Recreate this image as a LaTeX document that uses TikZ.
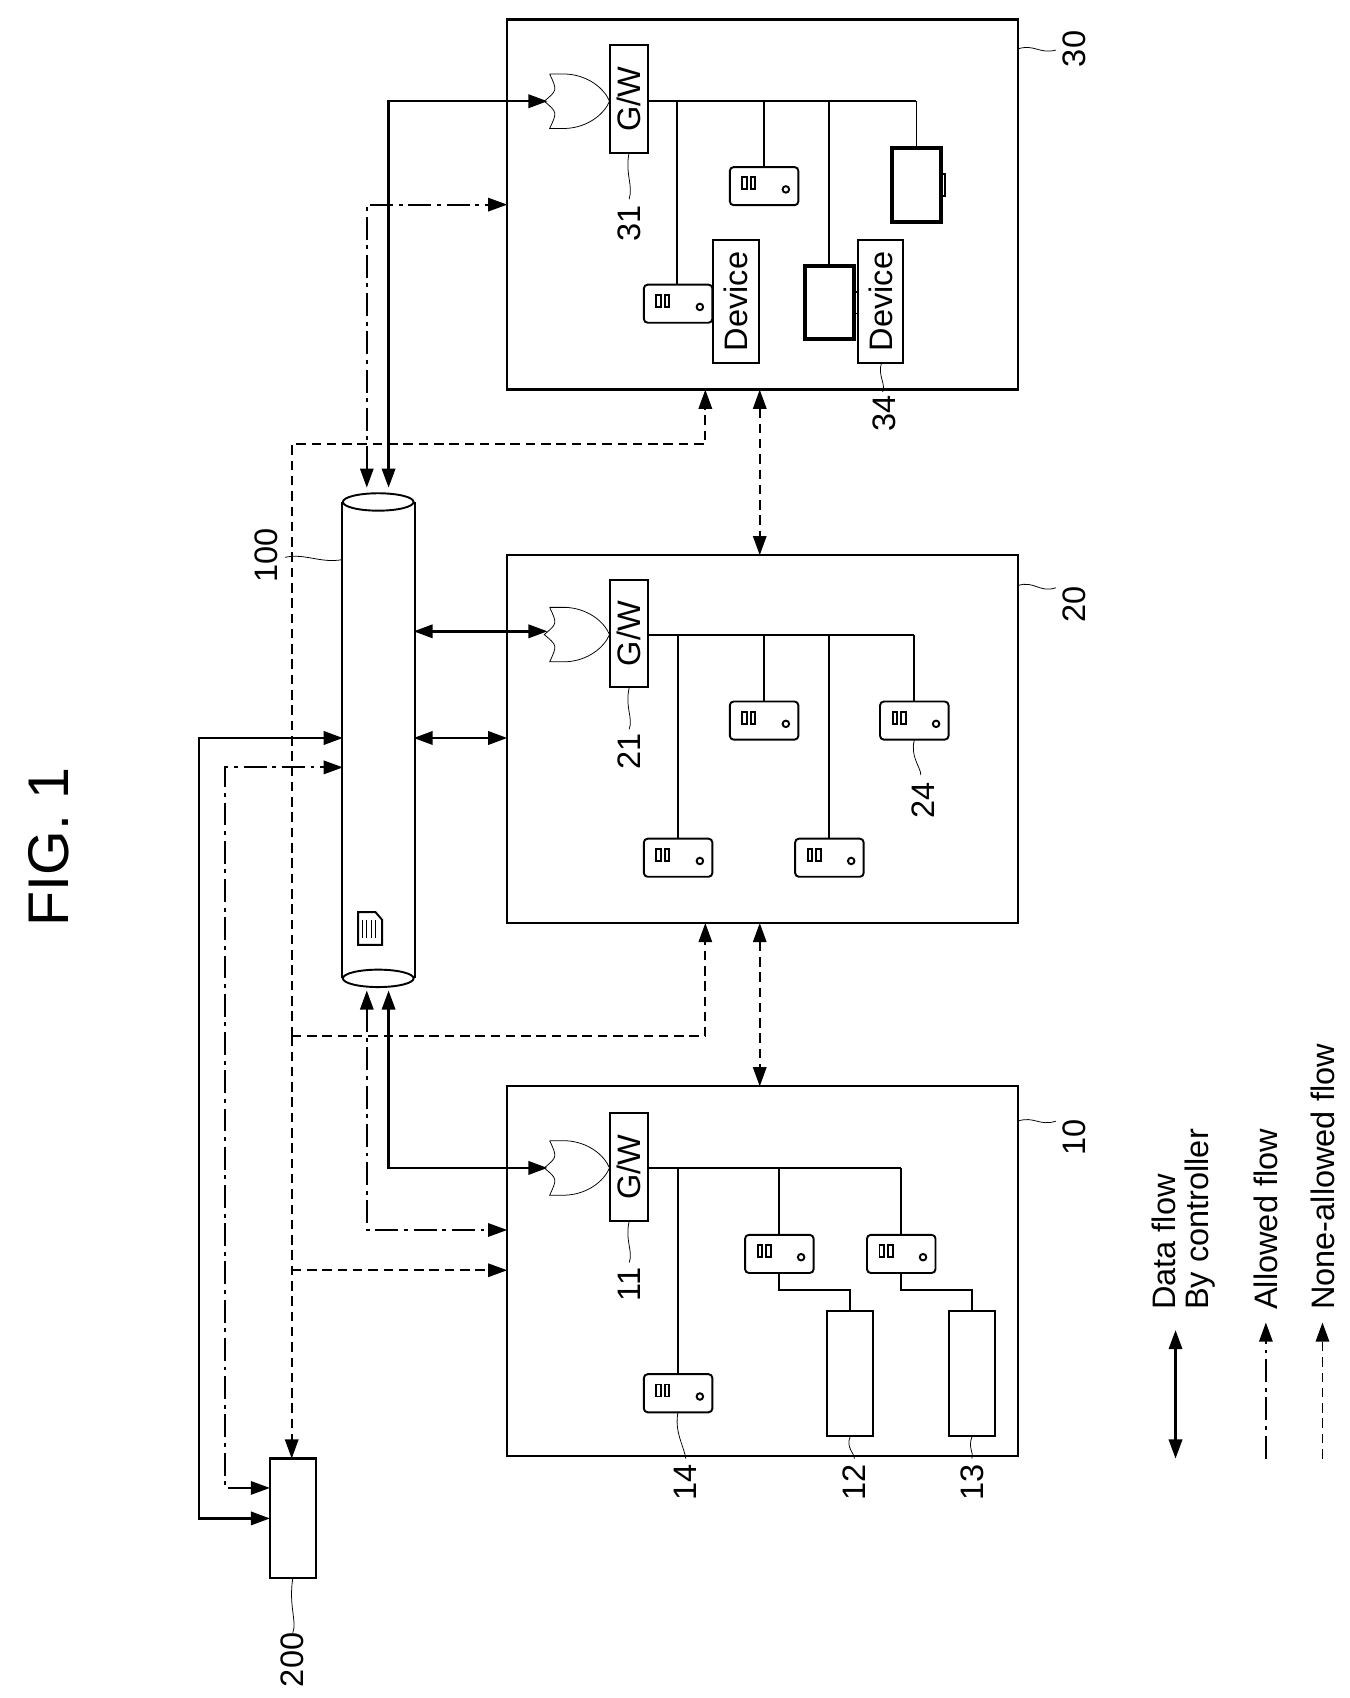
\documentclass[tikz,border=0pt]{standalone}
\usepackage{fontspec}
\setmainfont{Liberation Sans}
\usetikzlibrary{arrows.meta,positioning}

% pictogram macros
\newcommand{\gwgate}[2]{% tip at (#1,#2)
  \draw[thin] (#1-55,#2-25) -- (#1-40,#2-25)
    .. controls (#1-20,#2-24) and (#1-5,#2-12) .. (#1,#2)
    .. controls (#1-5,#2+12) and (#1-20,#2+24) .. (#1-40,#2+25)
    -- (#1-55,#2+25) .. controls (#1-48,#2+10) .. (#1-60,#2)
    .. controls (#1-48,#2-10) .. (#1-55,#2-25);}
\newcommand{\srv}[3]{% name, centre
  \node[srvbox] (#1) at (#2,#3) {};
  \draw (#2-20,#3-8) rectangle (#2-16,#3+3) (#2-12,#3-8) rectangle (#2-8,#3+3);
  \draw (#2+20,#3+3) circle (3);}
\newcommand{\mon}[3]{%
  \node[monbox] (#1) at (#2,#3) {};
  \draw (#2+23,#3-10) rectangle (#2+26,#3+10);}

\begin{document}
\begin{tikzpicture}[x=0.02cm,y=-0.02cm,line width=1pt,
  font=\fontsize{17}{17}\selectfont,
  box/.style={draw,line width=1.2pt,inner sep=0pt},
  gw/.style={draw,rotate=90,minimum width=1.98cm,minimum height=0.7cm,inner sep=0pt},
  dev/.style={draw,rotate=90,minimum width=2.26cm,minimum height=0.84cm,inner sep=0pt},
  srvbox/.style={draw,rounded corners=2pt,minimum width=1.26cm,minimum height=0.7cm,inner sep=0pt},
  monbox/.style={draw,line width=2pt,minimum width=0.9cm,minimum height=1.35cm,inner sep=0pt},
  tag/.style={rotate=90},
  tip/.style={-{Triangle[length=10pt,width=7pt]}},
  both/.style={{Triangle[length=10pt,width=7pt]}-{Triangle[length=10pt,width=7pt]}},
  data/.style={line width=1.3pt},
  allowed/.style={dash pattern=on 12pt off 3pt on 2pt off 3pt},
  denied/.style={dash pattern=on 5pt off 3pt},
  lead/.style={thin}]
\useasboundingbox (0,0) rectangle (1240,1560);

\node[tag,font=\fontsize{30}{30}\selectfont] (fig) at (45,778) {FIG. 1};

% networks
\node[box,minimum width=9.38cm,minimum height=6.8cm] (n30) at (700.5,188) {};
\node[box,minimum width=9.38cm,minimum height=6.76cm] (n20) at (700.5,679) {};
\node[box,minimum width=9.38cm,minimum height=6.8cm] (n10) at (700.5,1168) {};
\node[tag] (l30) at (987,45) {30};
\node[tag] (l20) at (987,555) {20};
\node[tag] (l10) at (987,1045) {10};
\draw[lead] (935,45) .. controls (950,40) and (955,50) .. (970,46);
\draw[lead] (935,538) .. controls (950,533) and (955,545) .. (970,540);
\draw[lead] (935,1030) .. controls (950,1025) and (955,1035) .. (970,1030);

% network 30
\gwgate{560}{93}
\node[gw] (gw30) at (577.5,91) {G/W};
\srv{s31}{623}{279}
\node[dev] (d31) at (676,277) {Device};
\srv{s32}{702}{171}
\mon{m31}{762}{278}
\node[dev] (d34) at (809,277) {Device};
\mon{m32}{842}{170}
\draw (595,93) -- (842,93);
\draw (622,93) -- (s31.north -| 622,0);
\draw (702,93) -- (s32.north);
\draw (762,93) -- (m31.north);
\draw (842,93) -- (m32.north);
\node[tag] (l31) at (578,205) {31};
\draw[lead] (578,140) .. controls (574,160) and (582,170) .. (578,183);
\node[tag] (l34) at (812,380) {34};
\draw[lead] (810,333) .. controls (806,345) and (814,352) .. (811,360);

% network 20
\gwgate{560}{583}
\node[gw] (gw20) at (577.5,582) {G/W};
\srv{s21}{623}{788}
\srv{s22}{702}{662}
\srv{s23}{762}{788}
\srv{s24}{840}{662}
\draw (595,583) -- (840,583);
\draw (623,583) -- (s21.north);
\draw (702,583) -- (s22.north);
\draw (762,583) -- (s23.north);
\draw (840,583) -- (s24.north);
\node[tag] (l21) at (578,690) {21};
\draw[lead] (578,632) .. controls (574,650) and (582,660) .. (578,670);
\node[tag] (l24) at (848,735) {24};
\draw[lead] (840,680) .. controls (836,695) and (846,705) .. (846,712);

% network 10
\gwgate{560}{1073}
\node[gw] (gw10) at (577.5,1072) {G/W};
\srv{s14}{623}{1280}
\srv{s12}{716}{1152}
\srv{s13}{828}{1152}
\node[box,minimum width=0.84cm,minimum height=2.3cm] (u12) at (781,1262) {};
\node[box,minimum width=0.84cm,minimum height=2.3cm] (u13) at (893,1262) {};
\draw (595,1073) -- (828,1073);
\draw (623,1073) -- (s14.north);
\draw (716,1073) -- (s12.north);
\draw (828,1073) -- (s13.north);
\draw (716,1170) -- (716,1185) -- (781,1185) -- (u12.north);
\draw (828,1170) -- (828,1185) -- (893,1185) -- (u13.north);
\node[tag] (l11) at (578,1180) {11};
\draw[lead] (578,1122) .. controls (574,1140) and (582,1150) .. (578,1160);
\node[tag] (l14) at (630,1362) {14};
\node[tag] (l12) at (785,1362) {12};
\node[tag] (l13) at (893,1362) {13};
\draw[lead] (623,1297) .. controls (619,1315) and (629,1330) .. (630,1340);
\draw[lead] (781,1320) .. controls (777,1330) and (785,1335) .. (785,1340);
\draw[lead] (893,1320) .. controls (889,1330) and (895,1335) .. (893,1340);

% data store 100
\node[inner sep=0pt,minimum width=1.3cm,minimum height=8.72cm] (db) at (347.5,680) {};
\draw (db.north west) -- (db.south west) (db.north east) -- (db.south east);
\draw (db.north) ellipse (32.5 and 8);
\draw (db.south) ellipse (32.5 and 8);
\draw (329,838) -- (345,838) -- (351,845) -- (351,868) -- (329,868) -- cycle;
\foreach \i in {333,337,341,345} \draw[thin] (\i,845) -- (\i,862);
\node[tag] (l100) at (245,510) {100};
\draw[lead] (262,512) .. controls (280,508) and (295,518) .. (315,514);

% controller 200
\node[box,minimum width=0.84cm,minimum height=2.2cm] (c200) at (269,1395) {};
\node[tag] (l200) at (269,1525) {200};
\draw[lead] (269,1450) .. controls (265,1475) and (273,1490) .. (269,1500);

% flows
\draw[data,both] (357,448) -- (357,93) -- (503,93);
\draw[allowed,both] (337,448) -- (337,188) -- (466,188);
\draw[data,both] (380,580) -- (503,580);
\draw[data,both] (380,678) -- (466,678);
\draw[data,both] (357,910) -- (357,1073) -- (503,1073);
\draw[allowed,both] (337,910) -- (337,1130) -- (466,1130);
\draw[data,both] (248,1395) -- (183,1395) -- (183,678) -- (315,678);
\draw[allowed,both] (248,1367) -- (207,1367) -- (207,705) -- (315,705);
\draw[denied,tip] (268,952) -- (268,1340);
\draw[denied,tip] (268,1167) -- (466,1167);
\draw[denied,tip] (268,952) -- (648,952) -- (648,848);
\draw[denied,tip] (268,952) -- (268,408) -- (648,408) -- (648,358);
\draw[denied,both] (698,358) -- (698,510);
\draw[denied,both] (698,848) -- (698,998);

% legend
\draw[data,both] (1080,1340) -- (1080,1222);
\draw[allowed,tip] (1163,1340) -- (1163,1215);
\draw[denied,tip] (1215,1340) -- (1215,1215);
\node[tag,anchor=north west,align=left] (lg1) at (1052,1210) {Data flow\\By controller};
\node[tag,anchor=west] (lg2) at (1163,1210) {Allowed flow};
\node[tag,anchor=west] (lg3) at (1215,1210) {None-allowed flow};
\end{tikzpicture}
\end{document}
